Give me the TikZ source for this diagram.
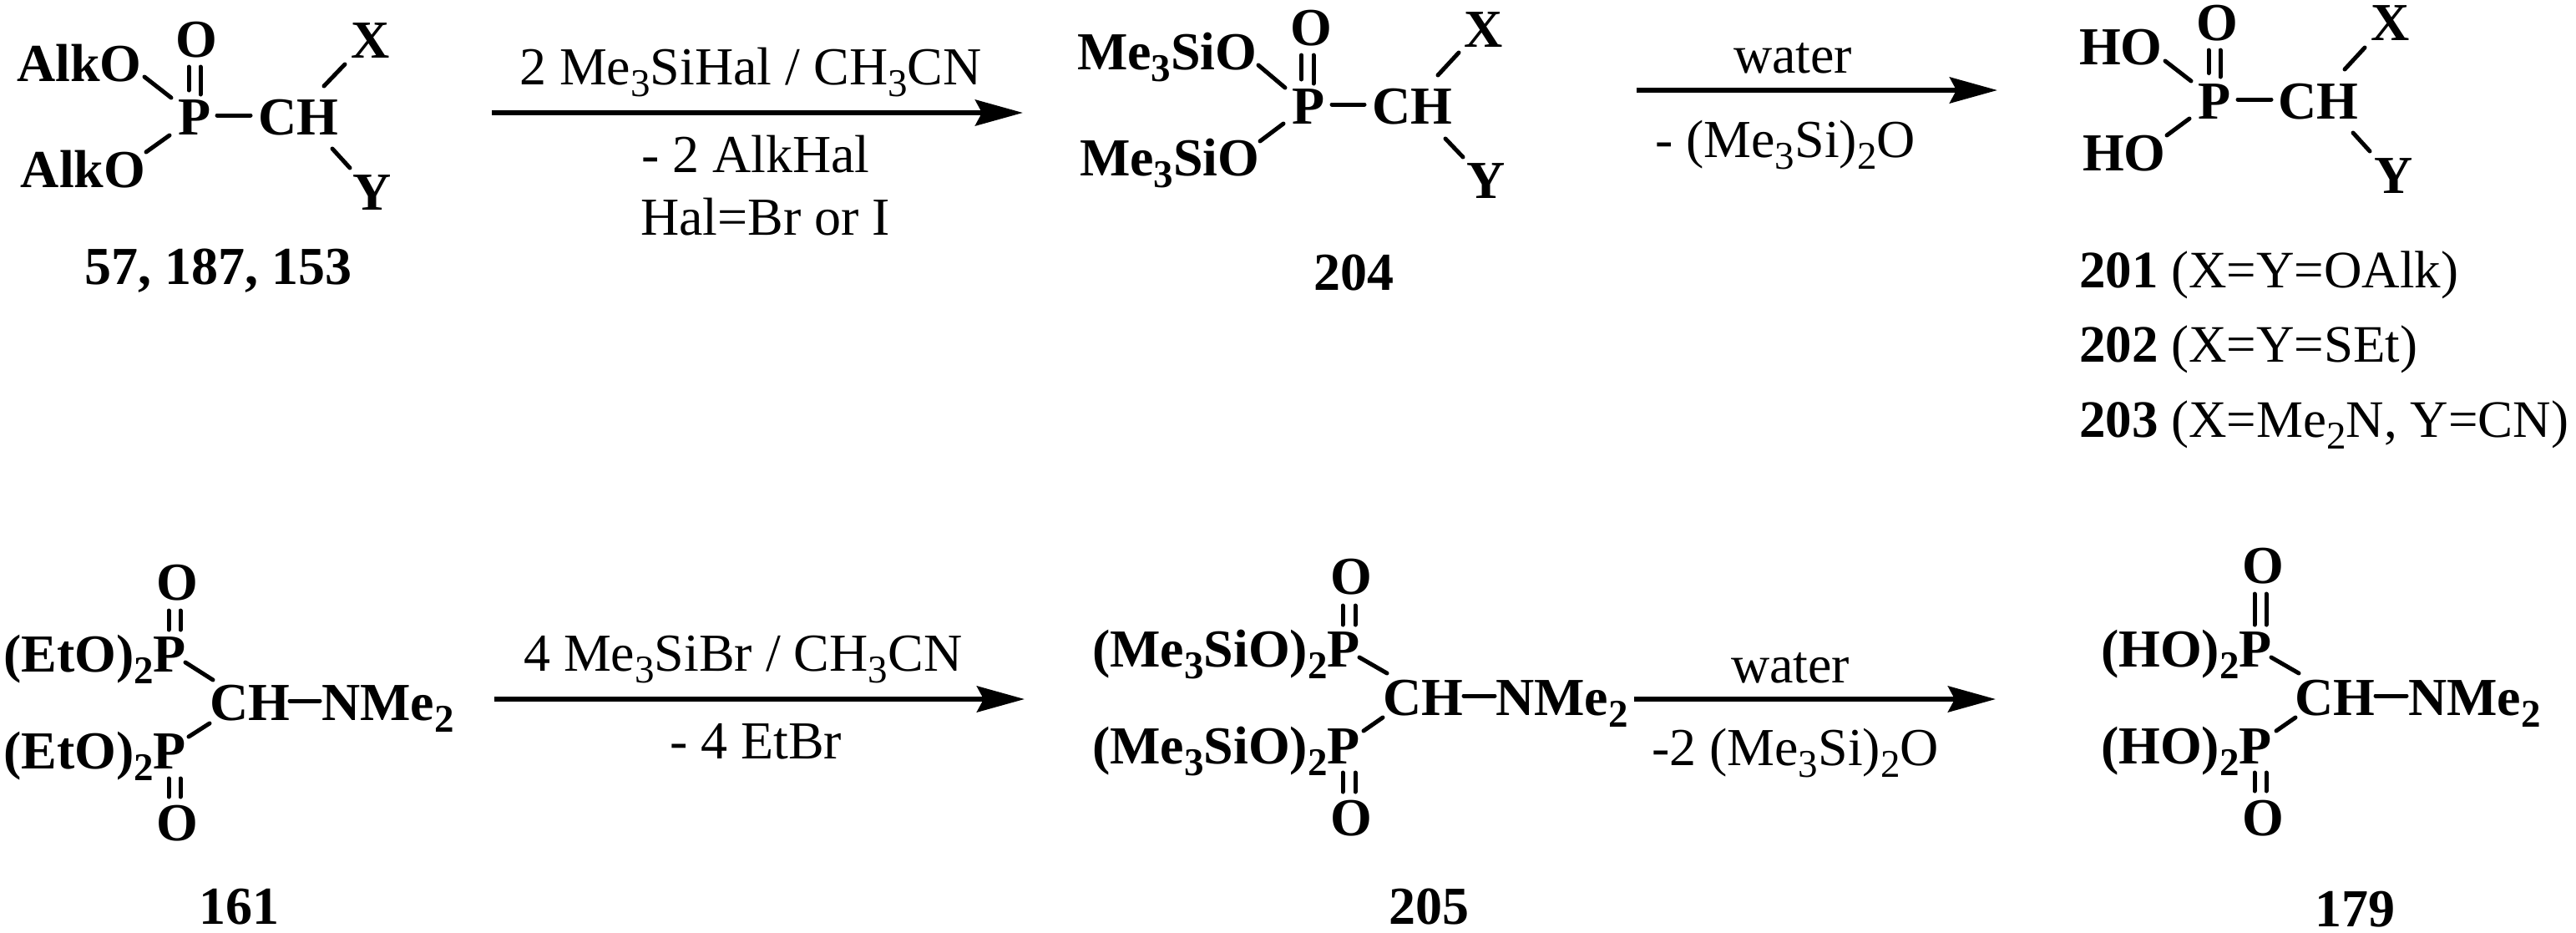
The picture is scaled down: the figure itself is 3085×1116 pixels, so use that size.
\documentclass[tikz,border=0pt]{standalone}
\usepackage{fontspec}
\setmainfont{Liberation Serif}
\usetikzlibrary{arrows.meta,calc}
\newcommand{\low}[1]{\raisebox{-7pt}{\fontsize{23.5}{26}\selectfont #1}}
\newcommand{\bond}[6]{\draw[bondline] ($(#1.base west)+(#2,#3)$) -- ($(#4.base west)+(#5,#6)$);}
\tikzset{
  txt/.style={anchor=base west,inner sep=0pt,outer sep=0pt,font=\fontsize{32}{38}\selectfont},
  atom/.style={txt,font=\fontsize{32}{38}\selectfont\bfseries},
  legend/.style={txt,font=\fontsize{31.5}{38}\selectfont},
  bondline/.style={line width=2.5pt,line cap=round,black},
  rxn/.style={line width=3pt,black,-{Stealth[length=28.5pt,width=15.5pt,inset=4pt]}}
}
\begin{document}
\begin{tikzpicture}[x=0.5pt,y=-0.5pt]
\useasboundingbox (0,0) rectangle (3085,1116);
% --- molecule 57, 187, 153
\node[atom] (a1) at (20,97) {AlkO};
\node[atom] (a2) at (25,224) {AlkO};
\node[atom] (aO) at (210,68) {O};
\node[atom] (aX) at (420,69) {X};
\node[atom] (aP) at (213,161) {P};
\node[atom] (aC) at (309,161) {CH};
\node[atom] (aY) at (422,251) {Y};
\node[atom] (aL) at (101,340) {57, 187, 153};
\bond{a1}{153}{-5}{aP}{-8}{-44}
\bond{aP}{-10}{1}{a2}{150}{-42}
\bond{aP}{47}{-23}{aC}{-9}{-23}
\bond{aC}{79}{-58}{aX}{-7}{8}
\bond{aC}{89}{17}{aY}{-3}{-50}
\bond{aP}{13}{-53}{aO}{16}{12}
\bond{aP}{27}{-48}{aO}{30}{12}
% --- arrow 1
\coordinate (r1s) at (589,135);
\coordinate (r1e) at (1225,135);
\draw[rxn] (r1s) -- (r1e);
\node[txt] (r1t) at (622,101) {2 Me\low{3}SiHal / CH\low{3}CN};
\node[txt] (r1u) at (768,206) {- 2 AlkHal};
\node[txt] (r1v) at (767,281) {Hal=Br or I};
% --- molecule 204
\node[atom] (b1) at (1290,83) {Me\low{3}SiO};
\node[atom] (b2) at (1293,210) {Me\low{3}SiO};
\node[atom] (bO) at (1545,54) {O};
\node[atom] (bX) at (1753,56) {X};
\node[atom] (bP) at (1547,148) {P};
\node[atom] (bC) at (1643,148) {CH};
\node[atom] (bY) at (1756,237) {Y};
\node[atom] (bL) at (1573,347) {204};
\bond{b1}{217}{-5}{bP}{-8}{-43}
\bond{bP}{-10}{0}{b2}{216}{-41}
\bond{bP}{48}{-23}{bC}{-9}{-23}
\bond{bC}{79}{-58}{bX}{-6}{7}
\bond{bC}{88}{18}{bY}{-4}{-49}
\bond{bP}{11.5}{-53}{bO}{13.5}{12}
\bond{bP}{26}{-48}{bO}{28}{12}
% --- arrow 2
\coordinate (r2s) at (1960,108);
\coordinate (r2e) at (2392,108);
\draw[rxn] (r2s) -- (r2e);
\node[txt] (r2t) at (2076,87) {water};
\node[txt] (r2u) at (1982,188) {- (Me\low{3}Si)\low{2}O};
% --- molecule 201-203
\node[atom] (c1) at (2490,77) {HO};
\node[atom] (c2) at (2494,204) {HO};
\node[atom] (cO) at (2630,48) {O};
\node[atom] (cX) at (2839,48) {X};
\node[atom] (cP) at (2632,142) {P};
\node[atom] (cC) at (2728,142) {CH};
\node[atom] (cY) at (2843,231) {Y};
\bond{c1}{103}{-4}{cP}{-8}{-45}
\bond{cP}{-10}{0}{c2}{101}{-42}
\bond{cP}{48}{-23}{cC}{-8}{-23}
\bond{cC}{80}{-59}{cX}{-7}{9}
\bond{cC}{90}{17}{cY}{-5}{-50}
\bond{cP}{13}{-54.5}{cO}{15}{12}
\bond{cP}{27}{-50}{cO}{29}{12}
\node[legend] (cL1) at (2490,344) {\textbf{201} (X=Y=OAlk)};
\node[legend] (cL2) at (2490,433) {\textbf{202} (X=Y=SEt)};
\node[legend] (cL3) at (2490,523) {\textbf{203} (X=Me\low{2}N, Y=CN)};
% --- molecule 161
\node[atom] (d1) at (4,804) {(EtO)\low{2}P};
\node[atom] (d2) at (4,920) {(EtO)\low{2}P};
\node[atom] (dOa) at (187,718) {O};
\node[atom] (dOb) at (187,1006) {O};
\node[atom] (dC) at (251,862) {CH};
\node[atom] (dN) at (385,862) {NMe\low{2}};
\node[atom] (dL) at (238,1106) {161};
\bond{dOa}{15}{13}{d1}{198}{-50}
\bond{dOa}{29}{13}{d1}{212}{-50}
\bond{d2}{198}{12}{dOb}{15}{-52}
\bond{d2}{212}{12}{dOb}{29}{-52}
\bond{d1}{218}{-11}{dC}{4}{-48}
\bond{dC}{0}{4}{d2}{222}{-38}
\bond{dC}{96}{-23}{dN}{-2}{-23}
% --- arrow 3
\coordinate (r3s) at (592,837);
\coordinate (r3e) at (1227,837);
\draw[rxn] (r3s) -- (r3e);
\node[txt] (r3t) at (627,803) {4 Me\low{3}SiBr / CH\low{3}CN};
\node[txt] (r3u) at (802,908) {- 4 EtBr};
% --- molecule 205
\node[atom] (e1) at (1308,798) {(Me\low{3}SiO)\low{2}P};
\node[atom] (e2) at (1308,914) {(Me\low{3}SiO)\low{2}P};
\node[atom] (eOa) at (1593,711) {O};
\node[atom] (eOb) at (1593,1000) {O};
\node[atom] (eC) at (1656,856) {CH};
\node[atom] (eN) at (1791,856) {NMe\low{2}};
\node[atom] (eL) at (1663,1106) {205};
\bond{eOa}{15}{14}{e1}{300}{-50}
\bond{eOa}{30}{14}{e1}{315}{-50}
\bond{e2}{300}{11}{eOb}{15}{-52}
\bond{e2}{315}{11}{eOb}{30}{-52}
\bond{e1}{320}{-11}{eC}{5}{-50}
\bond{eC}{0}{3}{e2}{325}{-39}
\bond{eC}{97}{-23}{eN}{-1}{-23}
% --- arrow 4
\coordinate (r4s) at (1957,837);
\coordinate (r4e) at (2390,837);
\draw[rxn] (r4s) -- (r4e);
\node[txt] (r4t) at (2073,817) {water};
\node[txt] (r4u) at (1978,916) {-2 (Me\low{3}Si)\low{2}O};
% --- molecule 179
\node[atom] (f1) at (2516,798) {(HO)\low{2}P};
\node[atom] (f2) at (2516,914) {(HO)\low{2}P};
\node[atom] (fOa) at (2685,698) {O};
\node[atom] (fOb) at (2685,1000) {O};
\node[atom] (fC) at (2748,856) {CH};
\node[atom] (fN) at (2884,856) {NMe\low{2}};
\node[atom] (fL) at (2772,1109) {179};
\bond{fOa}{15}{13}{f1}{184}{-50}
\bond{fOa}{29}{13}{f1}{198}{-50}
\bond{f2}{184}{11}{fOb}{15}{-53}
\bond{f2}{198}{11}{fOb}{29}{-53}
\bond{f1}{204}{-11}{fC}{5}{-50}
\bond{fC}{1}{3}{f2}{210}{-39}
\bond{fC}{97}{-23}{fN}{-2}{-23}
\end{tikzpicture}
\end{document}
